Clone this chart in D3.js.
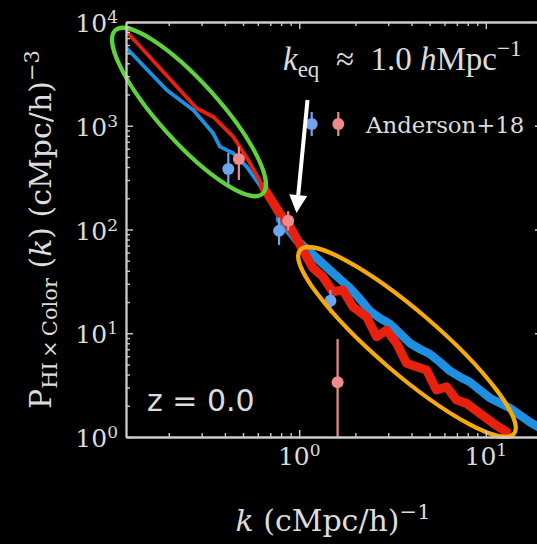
<!DOCTYPE html>
<html>
<head>
<meta charset="utf-8">
<script src="https://cdn.jsdelivr.net/npm/d3@7"></script>
<style>
  html, body { margin: 0; padding: 0; background: #000; }
  svg { display: block; }
</style>
</head>
<body>
<svg id="chart" width="537" height="544"></svg>
<script>
// HI x colour cross-power spectrum at z = 0, simulation curves and Anderson+18 points

const xDomain = [0.118, 20];
const yDomain = [1, 1e4];

// blue simulation curve
const blueK = [0.119, 0.195, 0.2705, 0.346, 0.376, 0.443, 0.523, 0.641, 0.788, 0.968, 1.239, 1.652, 1.87, 2.114, 2.391, 2.705, 3.06, 3.462, 3.917, 4.43, 5.01, 5.67, 6.42, 7.26, 8.21, 9.29, 10.5, 11.88, 13.44, 15.2, 17.2, 19.5, 21];
const blueP = [5580, 2212, 1418, 846, 629, 543, 403, 240, 126, 79.2, 53.1, 33.3, 27.3, 21.4, 16.4, 14.0, 12.3, 9.99, 8.05, 7.05, 6.31, 5.28, 4.33, 3.79, 3.39, 2.84, 2.38, 2.13, 1.90, 1.63, 1.395, 1.22, 1.15];

// red simulation curve
const redK = [0.119, 0.282, 0.346, 0.443, 0.533, 0.641, 0.788, 0.892, 1.047, 1.184, 1.339, 1.516, 1.714, 1.94, 2.296, 2.598, 2.938, 3.325, 3.762, 4.254, 4.813, 5.44, 6.16, 6.97, 7.88, 9.29, 10.94, 12.91];
const redP = [8060, 1473, 1222, 784, 468, 258, 143, 106.4, 63.4, 42.6, 35.1, 25.1, 26.1, 18.0, 14.4, 9.26, 10.7, 8.0, 5.13, 4.76, 4.42, 2.84, 3.05, 2.27, 2.11, 1.69, 1.36, 1.12];

// Anderson+18 measurements (value, lower, upper)
const andBlueK  = [0.417, 0.78, 1.47];
const andBlueP  = [383, 97, 20.6];
const andBlueLo = [268, 71, 15.6];
const andBlueHi = [546, 130, 26];
const andRedK   = [0.475, 0.873, 1.606];
const andRedP   = [478, 121.6, 3.37];
const andRedLo  = [300, 98, 0.5];
const andRedHi  = [630, 150, 8.8];

const xMajor = [1, 10];
const yMajor = [1, 10, 100, 1000, 10000];
const xMajorExp = ["0", "1"];
const yMajorExp = ["0", "1", "2", "3", "4"];

// highlighted regions: centre (k, P)
const greenCentre = [0.2567, 1357];
const orangeCentre = [3.78, 8.24];
// equality-scale arrow: tail and tip (k, P)
const arrowTail = [1.108, 1771];
const arrowTip = [0.967, 144];

const C = {
  bg: "#000", axis: "#cccccc", text: "#dcdcdc",
  red: "#e8200e", blue: "#1f8fe0",
  ptBlue: "#6ea6ee", ptRed: "#ef8a8a",
  green: "#5fd13d", orange: "#f5a90a"
};

const svg = d3.select("#chart");
const L = 126, R = 542, T = 22, B = 437;

const x = d3.scaleLog().domain(xDomain).range([L, R]);
const y = d3.scaleLog().domain(yDomain).range([B, T]);

svg.append("rect").attr("width", 537).attr("height", 544).attr("fill", C.bg);

svg.append("defs").append("clipPath").attr("id", "plotclip")
  .append("rect").attr("x", L).attr("y", T).attr("width", R - L).attr("height", B - T);

const plot = svg.append("g").attr("clip-path", "url(#plotclip)");

const zip = (ks, ps) => ks.map((k, i) => [k, ps[i]]);
const line = d3.line().x(d => x(d[0])).y(d => y(d[1]));

// thin low-k part and broad noisy high-k part of each curve
function drawCurve(ks, ps, colour, bandFrom, bandWidth) {
  const pts = zip(ks, ps);
  plot.append("path").attr("d", line(pts.filter(d => d[0] <= bandFrom * 1.25)))
    .attr("fill", "none").attr("stroke", colour).attr("stroke-width", 3.8)
    .attr("stroke-linejoin", "round").attr("stroke-linecap", "round");
  plot.append("path").attr("d", line(pts.filter(d => d[0] >= bandFrom)))
    .attr("fill", "none").attr("stroke", colour).attr("stroke-width", bandWidth)
    .attr("stroke-linejoin", "round").attr("stroke-linecap", "round");
}
drawCurve(blueK, blueP, C.blue, 0.75, 8.5);
drawCurve(redK, redP, C.red, 0.64, 9);

// error-bar points
function drawPoints(ks, ps, lo, hi, colour) {
  ks.forEach((k, i) => {
    plot.append("line")
      .attr("x1", x(k)).attr("x2", x(k))
      .attr("y1", y(lo[i])).attr("y2", y(hi[i]))
      .attr("stroke", colour).attr("stroke-width", 2.2);
    plot.append("circle").attr("cx", x(k)).attr("cy", y(ps[i])).attr("r", 6)
      .attr("fill", colour);
  });
}
drawPoints(andBlueK, andBlueP, andBlueLo, andBlueHi, C.ptBlue);
drawPoints(andRedK, andRedP, andRedLo, andRedHi, C.ptRed);

// highlighted ellipses
function ellipse(centre, rx, ry, angle, colour) {
  svg.append("ellipse")
    .attr("transform", `translate(${x(centre[0])},${y(centre[1])}) rotate(${angle})`)
    .attr("rx", rx).attr("ry", ry)
    .attr("fill", "none").attr("stroke", colour).attr("stroke-width", 4.2);
}
ellipse(greenCentre, 110, 30, 48, C.green);
ellipse(orangeCentre, 141, 31, 40.7, C.orange);

// axes: ticks point inward on all four sides
const minorX = [];
for (let e = -1; e <= 1; e++) for (let m = 2; m <= 9; m++) {
  const v = m * Math.pow(10, e);
  if (v >= xDomain[0] && v <= xDomain[1]) minorX.push(v);
}
const minorY = [];
for (let e = 0; e < 4; e++) for (let m = 2; m <= 9; m++) minorY.push(m * Math.pow(10, e));

function axisGroup(axisGen, tx, ty) {
  const g = svg.append("g").attr("transform", `translate(${tx},${ty})`).call(axisGen);
  g.selectAll("text").remove();
  g.selectAll("line").attr("stroke", C.axis).attr("stroke-width", 1.4);
  g.select(".domain").attr("stroke", C.axis).attr("stroke-width", 1.8);
  return g;
}
const mk = (fn, scale, vals, size) => fn(scale).tickValues(vals).tickSizeInner(size).tickSizeOuter(0).tickFormat("");

axisGroup(mk(d3.axisBottom, x, xMajor, -7), 0, B);
axisGroup(mk(d3.axisBottom, x, minorX, -4), 0, B);
axisGroup(mk(d3.axisTop, x, xMajor, -7), 0, T);
axisGroup(mk(d3.axisTop, x, minorX, -4), 0, T);
axisGroup(mk(d3.axisLeft, y, yMajor, -7), L, 0);
axisGroup(mk(d3.axisLeft, y, minorY, -4), L, 0);
axisGroup(mk(d3.axisRight, y, yMajor, -7), R, 0);
axisGroup(mk(d3.axisRight, y, minorY, -4), R, 0);

const serif = "'DejaVu Serif', serif";

// tick labels as 10^n
xMajor.forEach((v, i) => {
  const t = svg.append("text").attr("x", x(v)).attr("y", 465)
    .attr("text-anchor", "middle").attr("fill", C.text)
    .attr("font-family", serif).attr("font-size", 25);
  t.append("tspan").text("10");
  t.append("tspan").attr("font-size", 17).attr("dy", -9).text(xMajorExp[i]);
});
yMajor.forEach((v, i) => {
  const t = svg.append("text").attr("x", 118).attr("y", y(v) + 10)
    .attr("text-anchor", "end").attr("fill", C.text)
    .attr("font-family", serif).attr("font-size", 25);
  t.append("tspan").text("10");
  t.append("tspan").attr("font-size", 17).attr("dy", -9).text(yMajorExp[i]);
});

// axis titles
const xl = svg.append("text").attr("x", (L + R) / 2 - 1).attr("y", 531)
  .attr("text-anchor", "middle").attr("fill", C.text)
  .attr("font-family", serif).attr("font-size", 30);
xl.append("tspan").attr("font-style", "italic").text("k");
xl.append("tspan").text(" (cMpc/h)");
xl.append("tspan").attr("font-size", 21).attr("dy", -12).text("\u22121");

const yl = svg.append("text")
  .attr("transform", `translate(51,${(T + B) / 2}) rotate(-90)`)
  .attr("text-anchor", "middle").attr("fill", C.text)
  .attr("font-family", serif).attr("font-size", 30);
yl.append("tspan").text("P");
yl.append("tspan").attr("font-size", 21).attr("dy", 6).text("HI\u2009\u00d7\u2009Color");
yl.append("tspan").attr("dy", -6).text(" (");
yl.append("tspan").attr("font-style", "italic").text("k");
yl.append("tspan").text(") (cMpc/h)");
yl.append("tspan").attr("font-size", 21).attr("dy", -12).text("\u22123");

// redshift label
svg.append("text").attr("x", 147).attr("y", 411)
  .attr("fill", C.text).attr("font-family", "'DejaVu Sans', sans-serif")
  .attr("font-size", 30).text("z = 0.0");

// legend
const legY = 124;
[[311.7, C.ptBlue], [338.3, C.ptRed]].forEach(([lx, col]) => {
  svg.append("line").attr("x1", lx).attr("x2", lx).attr("y1", legY - 12).attr("y2", legY + 12)
    .attr("stroke", col).attr("stroke-width", 2.2);
  svg.append("circle").attr("cx", lx).attr("cy", legY).attr("r", 6).attr("fill", col);
});
svg.append("text").attr("x", 366).attr("y", 133).attr("fill", C.text)
  .attr("font-family", serif).attr("font-size", 22.8).text("Anderson+18");

// equality-scale annotation
const tx0 = x(arrowTail[0]), ty0 = y(arrowTail[1]);
const tx1 = x(arrowTip[0]), ty1 = y(arrowTip[1]);
const ang = Math.atan2(ty1 - ty0, tx1 - tx0);
const headLen = 18, headHalf = 9;
const bx = tx1 - headLen * Math.cos(ang), by = ty1 - headLen * Math.sin(ang);
svg.append("line").attr("x1", tx0).attr("y1", ty0).attr("x2", bx).attr("y2", by)
  .attr("stroke", "#fff").attr("stroke-width", 4);
svg.append("path")
  .attr("d", `M${tx1},${ty1} L${bx + headHalf * Math.sin(ang)},${by - headHalf * Math.cos(ang)} L${bx - headHalf * Math.sin(ang)},${by + headHalf * Math.cos(ang)} Z`)
  .attr("fill", "#fff");

const an = svg.append("text").attr("x", 283).attr("y", 70).attr("fill", C.text)
  .attr("font-family", "'Liberation Serif', serif").attr("font-size", 33);
an.append("tspan").attr("font-style", "italic").text("k");
an.append("tspan").attr("font-size", 23).attr("dy", 7).text("eq");
an.append("tspan").attr("dy", -7).text("\u2002\u2248\u20021.0 ");
an.append("tspan").attr("font-style", "italic").text("h");
an.append("tspan").text("Mpc");
an.append("tspan").attr("font-size", 23).attr("dy", -14).text("\u22121");
</script>
</body>
</html>
